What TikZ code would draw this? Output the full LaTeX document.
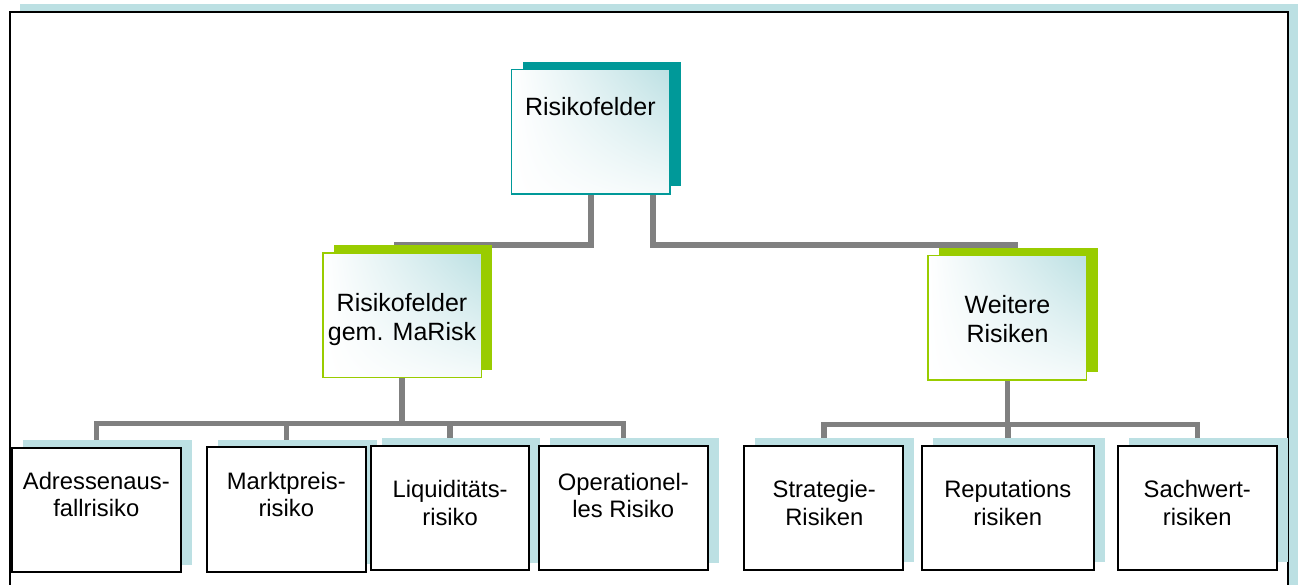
\documentclass[tikz,border=0pt]{standalone}
\usepackage{fontspec}
\setmainfont{Liberation Sans}
\usetikzlibrary{shadows,shadings,backgrounds,calc}
\definecolor{lb}{HTML}{BCE0E3}
\definecolor{tealc}{HTML}{009999}
\definecolor{greenc}{HTML}{99CC00}
\definecolor{conn}{HTML}{808080}
\tikzset{
  gbox/.style={draw=#1, line width=1.5pt, minimum width=158.5pt, minimum height=124.5pt, inner sep=0pt,
    upper left=white, upper right=lb, lower left=white, lower right=lb!15!white,
    general shadow={shadow xshift=11pt, shadow yshift=8pt, fill=#1, draw=none}},
  leaf/.style={draw=black, fill=white, line width=2pt, minimum height=124.5pt, inner sep=0pt,
    general shadow={shadow xshift=11pt, shadow yshift=7.7pt, fill=lb, draw=none}},
  lbl/.style={align=center, anchor=base, font=\fontsize{23.8}{27.5}\selectfont, inner sep=0pt},
  lblbig/.style={lbl, font=\fontsize{25}{29}\selectfont},
  link/.style={draw=conn, line width=5.5pt},
}
\begin{document}
\begin{tikzpicture}[x=1pt,y=-1pt]
\useasboundingbox (0,0) rectangle (1298,585);
\begin{pgfonlayer}{background}
  \fill[lb] (20,4) rectangle (1310,600);
  \draw[black, line width=2pt, fill=white] (10,12.5) rectangle (1288.3,600);
\end{pgfonlayer}

% top
\node[gbox=tealc] (top) at (590.85,132) {};
\node[lblbig] (ttop) at (590.3,115.7) {Risikofelder};
% middle
\node[gbox=greenc] (ml) at (402.2,315.3) {};
\node[lblbig] (tml) at (402,340.5) {Risikofelder\\gem. MaRisk};
\node[gbox=greenc] (mr) at (1007.3,317.8) {};
\node[lblbig] (tmr) at (1007.5,342.8) {Weitere\\Risiken};
% leaves
\node[leaf, minimum width=169.3pt] (b1) at (96.3,510.2) {};
\node[lbl] (t1) at (96.3,516.7) {Adressenaus-\\fallrisiko};
\node[leaf, minimum width=158.4pt] (b2) at (286.5,509.5) {};
\node[lbl] (t2) at (286.3,516.7) {Marktpreis-\\risiko};
\node[leaf, minimum width=158.3pt] (b3) at (450.2,508) {};
\node[lbl] (t3) at (450.1,525) {Liquiditäts-\\risiko};
\node[leaf, minimum width=168.7pt] (b4) at (623.3,508) {};
\node[lbl] (t4) at (623.3,517.5) {Operationel-\\les Risiko};
\node[leaf, minimum width=159pt] (b5) at (823.8,507.9) {};
\node[lbl] (t5) at (824.3,525) {Strategie-\\Risiken};
\node[leaf, minimum width=172.3pt] (b6) at (1007.8,507.9) {};
\node[lbl] (t6) at (1007.8,525) {Reputations\\risiken};
\node[leaf, minimum width=158.4pt] (b7) at (1197.5,507.9) {};
\node[lbl] (t7) at (1197.3,525) {Sachwert-\\risiken};

\coordinate (jl) at ($(ml.south)+(0,45.3)$);
\coordinate (jr) at ($(mr.south)+(0,43.5)$);

\begin{pgfonlayer}{background}
  \draw[link] (top.south) |- ([xshift=-5.5pt,yshift=7.5pt]ml.north) -- ([xshift=-5.5pt]ml.north);
  \draw[link] ([xshift=62pt]top.south) |- ([xshift=7.7pt,yshift=10pt]mr.north) -- ([xshift=7.7pt]mr.north);
  \draw[link] (ml.south) -- (jl);
  \draw[link] (b1.north) |- (jl) -| (b4.north);
  \draw[link] (b2.north) -- (b2.north |- jl);
  \draw[link] (b3.north) -- (b3.north |- jl);
  \draw[link] (mr.south) -- (jr);
  \draw[link] (b5.north) |- (jr) -| (b7.north);
  \draw[link] (b6.north) -- (b6.north |- jr);
\end{pgfonlayer}
\end{tikzpicture}
\end{document}
